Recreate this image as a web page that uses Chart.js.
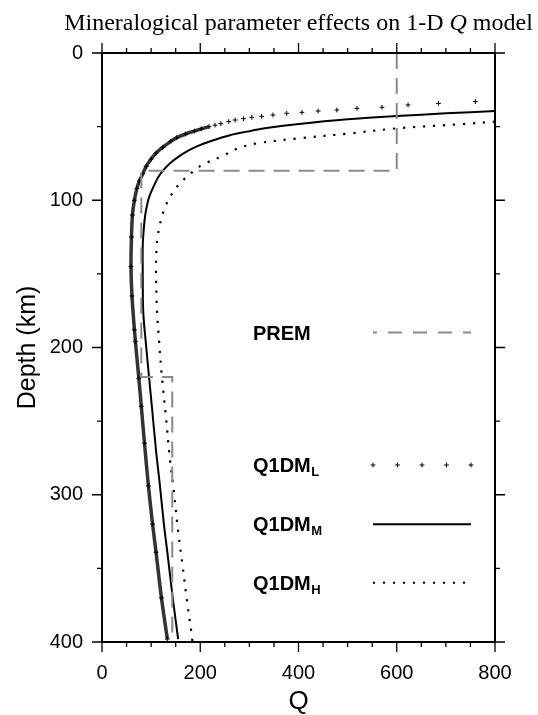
<!DOCTYPE html>
<html><head><meta charset="utf-8">
<script src="https://cdn.jsdelivr.net/npm/chart.js@4/dist/chart.umd.min.js"></script>
<style>html,body{margin:0;padding:0;background:#fff;}#wrap{width:538px;height:715px;position:relative;}</style>
</head><body><div id="wrap"><canvas id="c" width="538" height="715"></canvas></div>
<script>
// ---- text ----
const titleParts = ['Mineralogical parameter effects on 1-D ', 'Q', ' model'];
const xAxisTitle = 'Q';
const yAxisTitle = 'Depth (km)';
const legendNames = ['PREM', 'Q1DM', 'Q1DM', 'Q1DM'];
const legendSubs = ['', 'L', 'M', 'H'];
// ---- ticks ----
const xTicks = [0, 200, 400, 600, 800];
const yTicks = [0, 100, 200, 300, 400];
// ---- PREM ----
const premQ = [600, 600, 80, 80, 143, 143];
const premDepth = [0, 80, 80, 220, 220, 400];
// ---- Q1DM_L (crosses) ----
const depthL = [33, 34.2, 35.3, 36.9, 37.6, 38.7, 39.4, 40.3, 41, 42.1, 43, 43.7, 44.6, 45.5, 46.6, 48, 49, 50, 51.5, 53, 55, 57.5, 60, 64, 68, 72, 77, 82, 87, 92, 100, 110, 125, 145, 165, 188, 196, 221, 240, 265, 294, 320, 339, 370, 398];
const qL =     [760, 685, 623, 570, 519, 478, 440, 407, 376, 348, 325, 305, 288, 271, 258, 242, 230, 218, 202, 188, 170, 152, 140, 124, 110, 100, 90, 83, 76, 71, 66, 62, 60, 59, 61, 66, 68, 75, 80, 86.5, 94.5, 103, 110, 121, 133];
// ---- Q1DM_M (solid) ----
const depthM = [39.4, 41, 42.8, 45, 48.4, 51, 53.4, 55.7, 59.8, 63.6, 67, 70.4, 75, 79.5, 84, 88.5, 96, 100, 110, 120, 130, 153, 176, 196, 221, 240, 270, 294, 320, 339, 370, 398];
const qM =     [800, 700, 600, 500, 396, 335, 295, 262, 222, 192, 172, 156, 138, 125, 115, 108, 98, 94, 88, 85, 83, 83, 84, 89, 96, 101.5, 110, 118, 126, 133, 144, 155];
// ---- Q1DM_H (dotted) ----
const depthH = [46.6, 48.2, 51.2, 54.6, 58, 61.4, 65, 70, 75, 79, 83, 87, 92, 98, 105, 112, 118, 125, 132, 146, 167, 181, 195, 220, 250, 272, 300, 325, 348, 372, 396, 400];
const qH =     [800, 736, 600, 505, 399, 315, 275, 245, 210, 190, 177, 163, 150, 138, 128, 121, 117, 113, 111, 110, 111, 113, 116, 122, 131, 137, 147, 155, 164, 173, 183, 184];

const pts = (q, d) => q.map((v, i) => ({x: v, y: d[i]}));
const SANS = "'Liberation Sans', Arial, Helvetica, sans-serif";
const SERIF = "'Liberation Serif', 'Times New Roman', serif";
const PREM_GRAY = '#8a8a8a';

const titlePlugin = {
  id: 'titlePlugin',
  afterDraw(chart) {
    const ctx = chart.ctx, a = chart.chartArea;
    const fonts = ['24px ' + SERIF, 'italic 24px ' + SERIF, '24px ' + SERIF];
    ctx.save();
    let w = 0; const ws = [];
    titleParts.forEach((t, i) => { ctx.font = fonts[i]; const m = ctx.measureText(t).width; ws.push(m); w += m; });
    let x = (a.left + a.right) / 2 - w / 2;
    ctx.fillStyle = '#000'; ctx.textBaseline = 'alphabetic'; ctx.textAlign = 'left';
    titleParts.forEach((t, i) => { ctx.font = fonts[i]; ctx.fillText(t, x, 30); x += ws[i]; });
    ctx.restore();
  }
};

const framePlugin = {
  id: 'framePlugin',
  afterDatasetsDraw(chart) {
    const ctx = chart.ctx, a = chart.chartArea;
    const xs = chart.scales.x, ys = chart.scales.y;
    ctx.save();
    ctx.strokeStyle = '#000';
    ctx.lineWidth = 2;
    ctx.strokeRect(a.left, a.top, a.right - a.left, a.bottom - a.top);
    ctx.lineWidth = 1.3;
    ctx.beginPath();
    for (let v = xs.min; v <= xs.max; v += 50) {
      const p = xs.getPixelForValue(v);
      const L = (v % 200 === 0) ? 10 : 5;
      ctx.moveTo(p, a.bottom); ctx.lineTo(p, a.bottom + L);
      ctx.moveTo(p, a.top); ctx.lineTo(p, a.top - L);
    }
    for (let v = ys.min; v <= ys.max; v += 50) {
      const p = ys.getPixelForValue(v);
      const L = (v % 100 === 0) ? 10 : 5;
      ctx.moveTo(a.left, p); ctx.lineTo(a.left - L, p);
      ctx.moveTo(a.right, p); ctx.lineTo(a.right + L, p);
    }
    ctx.stroke();
    ctx.restore();
  }
};

const legendPlugin = {
  id: 'legendPlugin',
  afterDraw(chart) {
    const ctx = chart.ctx, a = chart.chartArea;
    const labelX = a.left + 151, s0 = a.left + 271, s1 = a.left + 369;
    const rows = [279.5, 412, 471.3, 529.7].map(v => a.top + v);
    ctx.save();
    ctx.fillStyle = '#000'; ctx.textAlign = 'left'; ctx.textBaseline = 'alphabetic';
    rows.forEach((y, i) => {
      ctx.font = 'bold 20px ' + SANS;
      ctx.fillText(legendNames[i], labelX, y + 7);
      if (legendSubs[i]) {
        const w = ctx.measureText(legendNames[i]).width;
        ctx.font = 'bold 13px ' + SANS;
        ctx.fillText(legendSubs[i], labelX + w + 0.5, y + 11);
      }
    });
    ctx.strokeStyle = PREM_GRAY; ctx.lineWidth = 2; ctx.setLineDash([14, 11]); ctx.lineDashOffset = 10;
    ctx.beginPath(); ctx.moveTo(s0, rows[0]); ctx.lineTo(s1, rows[0]); ctx.stroke();
    ctx.setLineDash([]); ctx.lineDashOffset = 0;
    ctx.strokeStyle = '#000'; ctx.lineWidth = 1;
    ctx.beginPath();
    for (let k = 0; k < 5; k++) {
      const cx = s0 + k * (s1 - s0) / 4, cy = rows[1];
      ctx.moveTo(cx - 2.4, cy); ctx.lineTo(cx + 2.4, cy);
      ctx.moveTo(cx, cy - 2.4); ctx.lineTo(cx, cy + 2.4);
    }
    ctx.stroke();
    ctx.lineWidth = 2;
    ctx.beginPath(); ctx.moveTo(s0, rows[2]); ctx.lineTo(s1, rows[2]); ctx.stroke();
    ctx.setLineDash([2, 8]);
    ctx.beginPath(); ctx.moveTo(s0, rows[3]); ctx.lineTo(s1, rows[3]); ctx.stroke();
    ctx.restore();
  }
};

new Chart(document.getElementById('c'), {
  type: 'scatter',
  data: {
    datasets: [
      { label: 'PREM', data: pts(premQ, premDepth), showLine: true, borderColor: PREM_GRAY, borderWidth: 2,
        borderDash: [16, 9], pointRadius: 0, tension: 0 },
      { label: 'Q1DM_M', data: pts(qM, depthM), showLine: true, borderColor: '#000', borderWidth: 2,
        pointRadius: 0, tension: 0.35 },
      { label: 'Q1DM_H', data: pts(qH, depthH), showLine: true, borderColor: '#000', borderWidth: 2.2,
        borderDash: [2.2, 7.8], pointRadius: 0, tension: 0.35 },
      { label: 'Q1DM_L', data: pts(qL, depthL), showLine: true, borderColor: '#333', borderWidth: 3.5,
        segment: { borderColor: c => (c.p0.parsed.y < 50 ? 'rgba(0,0,0,0)' : '#333') },
        pointStyle: 'cross', pointRadius: 2.4, pointBorderWidth: 1, pointBorderColor: '#000', tension: 0.3 }
    ]
  },
  options: {
    responsive: false, animation: false, devicePixelRatio: 1,
    layout: { padding: { left: 0, right: 43, top: 53, bottom: 0 } },
    plugins: { legend: { display: false }, title: { display: false }, tooltip: { enabled: false } },
    scales: {
      x: {
        type: 'linear', min: 0, max: 800, position: 'bottom',
        grid: { display: false, drawTicks: false }, border: { display: false },
        afterBuildTicks: s => { s.ticks = xTicks.map(v => ({ value: v })); },
        afterFit: s => { s.height = 73; },
        ticks: { padding: 19, color: '#000', font: { family: SANS, size: 20 }, maxRotation: 0 },
        title: { display: true, text: xAxisTitle, color: '#000', font: { family: SANS, size: 26, lineHeight: 1 }, padding: { top: 0, bottom: 0 } }
      },
      y: {
        type: 'linear', min: 0, max: 400, reverse: true, position: 'left',
        grid: { display: false, drawTicks: false }, border: { display: false },
        afterBuildTicks: s => { s.ticks = yTicks.map(v => ({ value: v })); },
        afterFit: s => { s.width = 102; },
        ticks: { padding: 19, color: '#000', font: { family: SANS, size: 20 } },
        title: { display: true, text: yAxisTitle, color: '#000', font: { family: SANS, size: 25, lineHeight: 1.2 }, padding: { top: 13, bottom: 0 } }
      }
    }
  },
  plugins: [titlePlugin, framePlugin, legendPlugin]
});
</script></body></html>
